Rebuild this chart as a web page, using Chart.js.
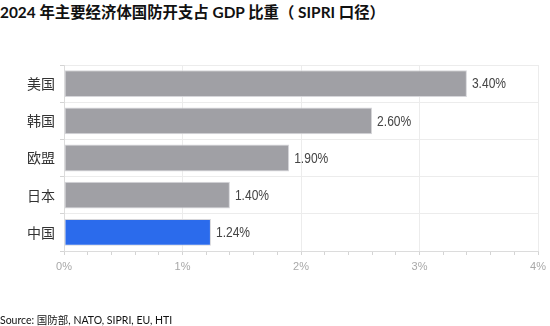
<!DOCTYPE html>
<html>
<head>
<meta charset="utf-8">
<script src="https://cdn.jsdelivr.net/npm/chart.js@4.4.1/dist/chart.umd.min.js"></script>
<style>
  html, body { margin: 0; padding: 0; background: #fff; }
  .wrap { position: relative; width: 550px; height: 326px; overflow: hidden; }
  .title {
    position: absolute; left: 0; top: 0px;
    font: bold 15.4px Lato, "Noto Sans CJK SC", sans-serif;
    color: #111; white-space: nowrap;
  }
  .source {
    position: absolute; left: 0; top: 312px;
    font: 10.5px Lato, "Noto Sans CJK SC", sans-serif;
    color: #111; white-space: nowrap;
  }
  canvas { position: absolute; left: 0; top: 0; }
</style>
</head>
<body>
<div class="wrap">
  <div class="title">2024 年主要经济体国防开支占 GDP 比重（ SIPRI 口径）</div>
  <canvas class="my-chart" width="550" height="326"></canvas>
  <div class="source">Source: 国防部, NATO, SIPRI, EU, HTI</div>
</div>
<script>
const countries = ["美国", "韩国", "欧盟", "日本", "中国"]
const shares = [3.40, 2.60, 1.90, 1.40, 1.24]
const barColors = ["#a0a0a5", "#a0a0a5", "#a0a0a5", "#a0a0a5", "#2b6bec"]
const xTicks = [0, 1, 2, 3, 4]

const ctx = document.querySelector(".my-chart").getContext('2d')

// value text drawn just past the end of each bar, squeezed a little sideways
const barValues = {
    id: "barValues",
    afterDatasetsDraw(chart) {
        const c = chart.ctx
        const meta = chart.getDatasetMeta(0)
        c.save()
        c.font = "14px 'Liberation Sans', sans-serif"
        c.fillStyle = "#444"
        c.textAlign = "left"
        c.textBaseline = "middle"
        meta.data.forEach((bar, i) => {
            c.save()
            c.translate(bar.x + 5, bar.y + 1)
            c.scale(0.86, 1)
            c.fillText(shares[i].toFixed(2) + "%", 0, 0)
            c.restore()
        })
        c.restore()
    }
}

new Chart(ctx, {
    type: "bar",
    data: {
        labels: countries,
        datasets: [{
            data: shares,
            backgroundColor: barColors,
            borderColor: "#d6d6da",
            borderWidth: 1,
            borderSkipped: false,
            barPercentage: 0.72,
            categoryPercentage: 1,
        }]
    },
    options: {
        indexAxis: "y",
        responsive: false,
        animation: false,
        layout: { padding: { top: 65, right: 12, left: 0, bottom: 0 } },
        plugins: {
            legend: { display: false },
            tooltip: { enabled: false },
        },
        scales: {
            x: {
                min: 0,
                max: 4,
                afterFit(scale) {
                    scale.height = 75
                    scale.paddingRight = 0
                },
                afterBuildTicks(scale) {
                    const t = []
                    for (let k = 0; k <= 20; k++) t.push({ value: k / 5 })
                    scale.ticks = t
                },
                border: { color: "#dcdcdc" },
                grid: {
                    color: (c) => xTicks.includes(Math.round(c.tick.value * 1000) / 1000) ? "#ececec" : "rgba(0,0,0,0)",
                    tickColor: "#d4d4d4",
                    tickLength: 4,
                },
                ticks: {
                    autoSkip: false,
                    maxRotation: 0,
                    padding: 5,
                    color: "#a8a8a8",
                    font: { size: 11, family: "'Liberation Sans', sans-serif" },
                    callback: (v) => {
                        const r = Math.round(v * 1000) / 1000
                        return xTicks.includes(r) ? r + "%" : ""
                    },
                },
            },
            y: {
                afterFit(scale) { scale.width = 64 },
                border: { color: "#dcdcdc" },
                grid: {
                    offset: true,
                    color: "#ececec",
                    tickColor: "#d4d4d4",
                    tickLength: 4,
                },
                ticks: {
                    padding: 5,
                    color: "#333",
                    font: { size: 14, family: "'Noto Sans CJK SC', sans-serif" },
                },
            },
        },
    },
    plugins: [barValues],
})
</script>
</body>
</html>
